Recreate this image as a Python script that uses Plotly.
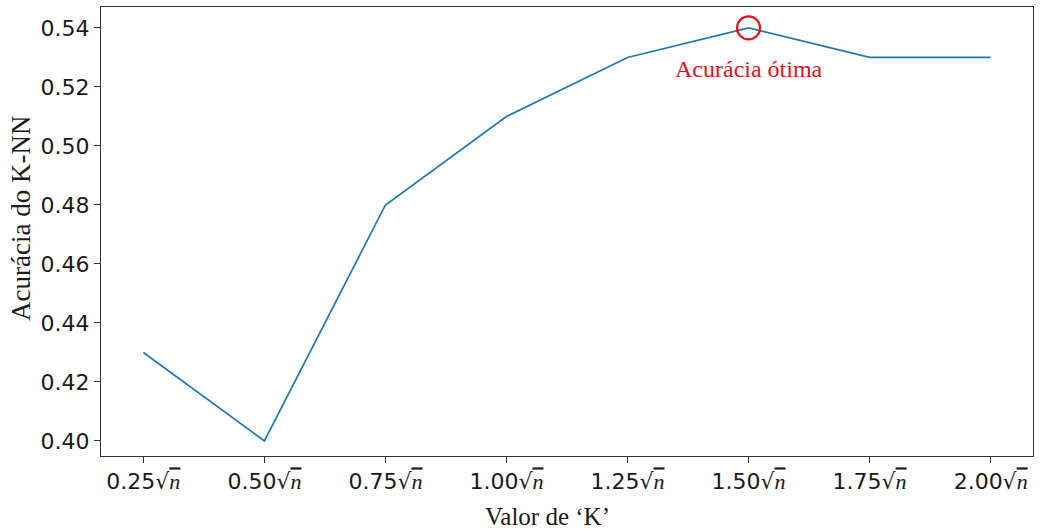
import plotly.graph_objects as go

k_factors = ["0.25", "0.50", "0.75", "1.00", "1.25", "1.50", "1.75", "2.00"]
accuracy = [0.43, 0.40, 0.48, 0.51, 0.53, 0.54, 0.53, 0.53]
y_ticks = [0.40, 0.42, 0.44, 0.46, 0.48, 0.50, 0.52, 0.54]
best_idx = 5
best_label = "Acurácia ótima"
x_title = "Valor de ‘K’"
y_title = "Acurácia do K-NN"

x_idx = list(range(len(k_factors)))
tick_text = [f"{k}√<span style='font-family:Liberation Serif;text-decoration:overline'><i>n</i></span>"
             for k in k_factors]

fig = go.Figure()
fig.add_trace(go.Scatter(x=x_idx, y=accuracy, mode="lines",
                         line=dict(color="#2277b4", width=1.7), showlegend=False))
fig.add_trace(go.Scatter(x=[x_idx[best_idx]], y=[accuracy[best_idx]], mode="markers",
                         marker=dict(symbol="circle-open", size=23, color="#e0141b",
                                     line=dict(width=2.2, color="#e0141b")),
                         showlegend=False))
fig.add_annotation(x=x_idx[best_idx], y=accuracy[best_idx], yshift=-41, text=best_label,
                   showarrow=False, font=dict(family="Liberation Serif", size=24, color="#e0141b"))

fig.add_annotation(xref="paper", yref="paper", x=(547 - 101) / 932, y=0, yshift=-60,
                   yanchor="middle", xanchor="center", showarrow=False, text=x_title,
                   font=dict(family="Liberation Serif", size=25, color="#1a1a1a"))
fig.add_annotation(xref="paper", yref="paper", x=0, xshift=-80, y=(456 - 219) / 449,
                   yanchor="middle", xanchor="center", showarrow=False, text=y_title,
                   textangle=-90, font=dict(family="Liberation Serif", size=27, color="#1a1a1a"))

fig.update_layout(
    width=1044, height=529,
    margin=dict(l=101, r=11, t=7, b=73),
    paper_bgcolor="white", plot_bgcolor="white",
    font=dict(family="DejaVu Sans", color="#1a1a1a"),
)
fig.update_xaxes(range=[-0.35, 7.35], tickmode="array", tickvals=x_idx, ticktext=tick_text,
                 showgrid=False, zeroline=False, showline=True, linecolor="#333", linewidth=1,
                 mirror=True, ticks="outside", ticklen=6, tickcolor="#333", automargin=False,
                 tickfont=dict(size=22, family="DejaVu Sans", color="#1a1a1a"))
fig.update_yaxes(range=[0.3949, 0.5471], tickmode="array", tickvals=y_ticks,
                 ticktext=[f"{v:.2f}" for v in y_ticks],
                 showgrid=False, zeroline=False, showline=True, linecolor="#333", linewidth=1,
                 mirror=True, ticks="outside", ticklen=6, tickcolor="#333", automargin=False,
                 tickfont=dict(size=22, family="DejaVu Sans", color="#1a1a1a"))

fig.write_html("out.html", config={"displayModeBar": False},
               post_script="document.body.style.margin='0';document.body.style.overflow='hidden';")
